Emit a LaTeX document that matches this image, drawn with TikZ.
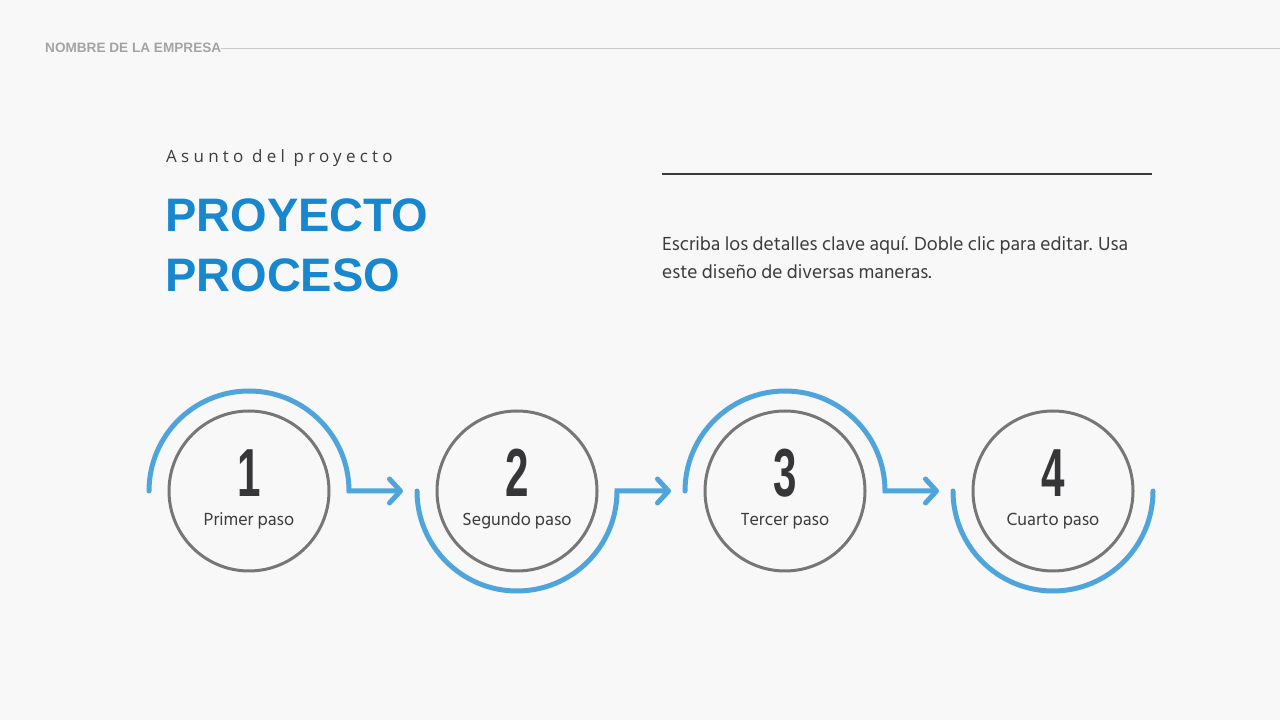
\documentclass[tikz,border=0pt]{standalone}
\usepackage{fontspec}
\usepackage{graphicx}
\setmainfont{Hind Siliguri}
\newfontfamily\headfont{Liberation Sans}
\newfontfamily\subfont[LetterSpace=25]{Open Sans}
\usetikzlibrary{positioning, arrows.meta, calc}

\definecolor{pagebg}{HTML}{F8F8F9}
\definecolor{ringblue}{HTML}{4FA5DB}
\definecolor{titleblue}{HTML}{1787D0}
\definecolor{circgray}{HTML}{767577}
\definecolor{numdark}{HTML}{363537}
\definecolor{textdark}{HTML}{3C3C3C}
\definecolor{headgray}{HTML}{A3A3A3}
\definecolor{rulegray}{HTML}{C9C9C9}

\begin{document}
\begin{tikzpicture}[x=1pt, y=1pt]

    \tikzstyle{stepcirc} = [draw=circgray, line width=3pt, circle, minimum size=160pt, inner sep=0pt]
    \tikzstyle{num} = [anchor=base, inner sep=0pt, text=numdark, font=\headfont\bfseries\fontsize{68}{68}\selectfont]
    \tikzstyle{steplabel} = [anchor=base, inner sep=0pt, text=textdark, font=\fontsize{18}{18}\selectfont]
    \tikzstyle{ring} = [draw=ringblue, line width=5pt, line cap=round]
    \tikzstyle{ringarrow} = [ring, -{Straight Barb[round, length=11pt, width=24pt]}]

    % Page
    \fill[pagebg] (0,0) rectangle (1280,720);
    \useasboundingbox (0,0) rectangle (1280,720);

    % Header
    \node[anchor=base west, inner sep=0pt, text=headgray, font=\headfont\bfseries\fontsize{13.6}{13.6}\selectfont] (company) at (45,667) {NOMBRE DE LA EMPRESA};
    \coordinate (headend) at (1280,671);
    \draw[rulegray, line width=1.5pt] (company.east) -- (company.east -| headend);

    % Title block
    \node[anchor=base west, inner sep=0pt, text=textdark, font=\subfont\fontsize{17}{17}\selectfont] (subject) at (166,557) {Asunto del proyecto};
    \node[anchor=base west, inner sep=0pt, text=titleblue, font=\headfont\bfseries\fontsize{47}{47}\selectfont] (title1) at (165,488) {PROYECTO};
    \node[anchor=base west, inner sep=0pt, text=titleblue, font=\headfont\bfseries\fontsize{47}{47}\selectfont] (title2) at (165,428) {PROCESO};

    % Details
    \coordinate (ruleA) at (662,546);
    \coordinate (ruleB) at (1152,546);
    \draw[textdark, line width=2.5pt] (ruleA) -- (ruleB);
    \node[anchor=base west, inner sep=0pt, text=textdark, align=left, font=\fontsize{19.4}{28}\selectfont] (details) at (662,441) {Escriba los detalles clave aquí. Doble clic para editar. Usa\\este diseño de diversas maneras.};

    % Add the steps
    \node[stepcirc] (p1) at (249,229) {};
    \node[stepcirc, on grid, right=268pt of p1] (p2) {};
    \node[stepcirc, on grid, right=268pt of p2] (p3) {};
    \node[stepcirc, on grid, right=268pt of p3] (p4) {};

    % Numbers and labels
    \node[num] (n1) at ([yshift=-6pt]p1.center) {\scalebox{0.62}[1]{1}};
    \node[num] (n2) at ([yshift=-6pt]p2.center) {\scalebox{0.62}[1]{2}};
    \node[num] (n3) at ([yshift=-6pt]p3.center) {\scalebox{0.62}[1]{3}};
    \node[num] (n4) at ([yshift=-6pt]p4.center) {\scalebox{0.62}[1]{4}};
    \node[steplabel] (l1) at ([yshift=-35pt]p1.center) {Primer paso};
    \node[steplabel] (l2) at ([yshift=-35pt]p2.center) {Segundo paso};
    \node[steplabel] (l3) at ([yshift=-35pt]p3.center) {Tercer paso};
    \node[steplabel] (l4) at ([yshift=-35pt]p4.center) {Cuarto paso};

    % Rings with arrows
    \draw[ringarrow] ($(p1.center)+(-100,0)$) arc[start angle=180, end angle=0, radius=100] -- ($(p1.center)+(154,0)$);
    \draw[ringarrow] ($(p2.center)+(-100,0)$) arc[start angle=180, end angle=360, radius=100] -- ($(p2.center)+(154,0)$);
    \draw[ringarrow] ($(p3.center)+(-100,0)$) arc[start angle=180, end angle=0, radius=100] -- ($(p3.center)+(154,0)$);
    \draw[ring] ($(p4.center)+(-100,0)$) arc[start angle=180, end angle=360, radius=100];

\end{tikzpicture}
\end{document}
